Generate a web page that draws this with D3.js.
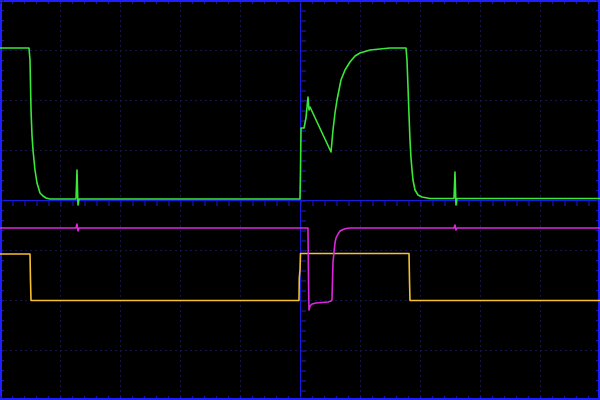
<!DOCTYPE html>
<html><head><meta charset="utf-8">
<script src="https://cdn.jsdelivr.net/npm/d3@7"></script>
<style>html,body{margin:0;padding:0;background:#000;}svg{display:block;}</style>
</head><body>
<script>
// time in divisions, amplitude in divisions
const xDivs = [-5,-4,-3,-2,-1,0,1,2,3,4,5];
const yDivs = [-4,-3,-2,-1,0,1,2,3,4];

const ch1Green = [[-5,3.04],[-4.517,3.04],[-4.5,2.8],[-4.483,1.8],[-4.467,1.3],[-4.45,1.0],[-4.417,0.6],[-4.383,0.34],[-4.333,0.14],[-4.283,0.08],[-4.233,0.04],[-4.167,0.02],[-3.733,0.02],[-3.725,0.3],[-3.717,0.6],[-3.708,0.2],[-3.7,-0.1],[-3.683,0.02],[0,0.02],[0.008,0.6],[0.017,1.44],[0.067,1.44],[0.1,1.64],[0.133,2.06],[0.15,1.8],[0.167,1.86],[0.517,0.96],[0.55,1.4],[0.583,1.74],[0.617,2.0],[0.65,2.2],[0.683,2.4],[0.75,2.6],[0.833,2.76],[0.917,2.88],[1.0,2.94],[1.167,3.0],[1.333,3.02],[1.5,3.04],[1.767,3.04],[1.783,2.8],[1.8,2.26],[1.817,1.7],[1.833,1.2],[1.85,0.84],[1.867,0.6],[1.883,0.4],[1.917,0.2],[1.967,0.1],[2.033,0.06],[2.167,0.03],[2.567,0.03],[2.575,0.3],[2.583,0.56],[2.592,0.2],[2.6,-0.1],[2.617,0.03],[5,0.03]];

const ch2Magenta = [[-5,-0.56],[-3.733,-0.56],[-3.717,-0.48],[-3.7,-0.62],[-3.683,-0.56],[0.133,-0.56],[0.142,-1.6],[0.15,-2.2],[0.167,-2.12],[0.2,-2.08],[0.267,-2.06],[0.467,-2.04],[0.517,-2.02],[0.533,-2.0],[0.542,-1.6],[0.55,-1.24],[0.567,-1.04],[0.583,-0.86],[0.6,-0.76],[0.633,-0.68],[0.667,-0.62],[0.717,-0.59],[0.767,-0.57],[0.833,-0.56],[2.567,-0.56],[2.583,-0.5],[2.6,-0.6],[2.617,-0.56],[5,-0.56]];

const ch3Yellow = [[-5,-1.08],[-4.5,-1.08],[-4.492,-1.6],[-4.483,-2.01],[-0.017,-2.01],[-0.012,-1.56],[0,-1.4],[0.008,-1.07],[1.817,-1.07],[1.825,-1.6],[1.833,-2.01],[5,-2.01]];

const W = 600, H = 400;
const x = d3.scaleLinear().domain([-5,5]).range([0,W]);
const y = d3.scaleLinear().domain([-4,4]).range([H,0]);

const svg = d3.select("body").append("svg").attr("width",W).attr("height",H);
svg.append("rect").attr("width",W).attr("height",H).attr("fill","#000");

// dotted grid
const gCol = "#14144a";
const grid = svg.append("g");
grid.selectAll("line.v").data(xDivs.filter(d=>d!==0 && Math.abs(d)<5)).join("line")
  .attr("x1",d=>x(d)+0.5).attr("x2",d=>x(d)+0.5).attr("y1",0).attr("y2",H)
  .attr("stroke",gCol).attr("stroke-width",1).attr("stroke-dasharray","2,3");
grid.selectAll("line.h").data(yDivs.filter(d=>d!==0 && Math.abs(d)<4)).join("line")
  .attr("y1",d=>y(d)+0.5).attr("y2",d=>y(d)+0.5).attr("x1",0).attr("x2",W)
  .attr("stroke",gCol).attr("stroke-width",1).attr("stroke-dasharray","2,3");

// center axes with minor ticks
const axCol = "#1a1ae0";
const xAxis = d3.axisBottom(x).tickValues(d3.range(-5,5.001,0.2)).tickSize(6).tickFormat("");
const xa = svg.append("g").attr("transform",`translate(0,${y(0)+3})`).call(xAxis);
xa.selectAll("line").attr("stroke",axCol).attr("transform","translate(0.5,-3)");
xa.select(".domain").attr("stroke",axCol).attr("d",`M0,-2.5H${W}`);
const yAxis = d3.axisLeft(y).tickValues(d3.range(-4,4.001,0.2)).tickSize(6).tickFormat("");
const ya = svg.append("g").attr("transform",`translate(${x(0)+3},0)`).call(yAxis);
ya.selectAll("line").attr("stroke",axCol).attr("transform","translate(3,0.5)");
ya.select(".domain").attr("stroke",axCol).attr("d",`M-2.5,0V${H}`);

// border
const bCol = "#1e1eff";
svg.append("rect").attr("x",1).attr("y",1).attr("width",W-2).attr("height",H-2)
  .attr("fill","none").attr("stroke",bCol).attr("stroke-width",2);
const bt = svg.append("g").attr("stroke","#1414a0");
const xt = d3.range(-5,5.001,0.2), yt = d3.range(-4,4.001,0.2);
bt.selectAll("line.t").data(xt).join("line").attr("class","t").attr("x1",d=>x(d)+0.5).attr("x2",d=>x(d)+0.5).attr("y1",2).attr("y2",4);
bt.selectAll("line.b").data(xt).join("line").attr("class","b").attr("x1",d=>x(d)+0.5).attr("x2",d=>x(d)+0.5).attr("y1",H-4).attr("y2",H-2);
bt.selectAll("line.l").data(yt).join("line").attr("class","l").attr("y1",d=>y(d)+0.5).attr("y2",d=>y(d)+0.5).attr("x1",2).attr("x2",4);
bt.selectAll("line.r").data(yt).join("line").attr("class","r").attr("y1",d=>y(d)+0.5).attr("y2",d=>y(d)+0.5).attr("x1",W-4).attr("x2",W-2);

// traces
const line = d3.line().x(d=>x(d[0])).y(d=>y(d[1]));
const traces = [
  {data: ch3Yellow, color: "#f5c12e"},
  {data: ch2Magenta, color: "#dc28dc"},
  {data: ch1Green, color: "#3ae83a"}
];
svg.append("g").selectAll("path").data(traces).join("path")
  .attr("d",d=>line(d.data)).attr("fill","none")
  .attr("stroke",d=>d.color).attr("stroke-width",1.6).attr("stroke-linejoin","round");
</script>
</body></html>
